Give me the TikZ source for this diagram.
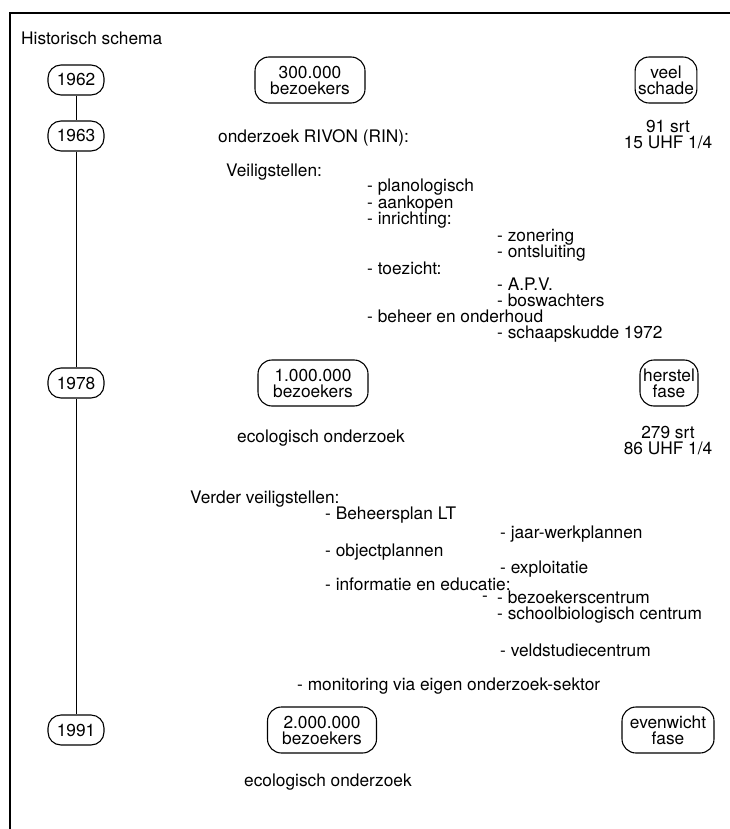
\documentclass[tikz,border=0pt]{standalone}
\usepackage{fontspec}
\setmainfont{TeX Gyre Heros}
\begin{document}
\begin{tikzpicture}[x=1pt,y=-1pt,
  every node/.style={font=\fontsize{17.3}{16}\selectfont, text=black},
  yearbox/.style={draw, line width=1.1pt, rounded corners=13pt, minimum width=56pt, minimum height=30pt, inner sep=0pt, text height=12pt, text depth=0pt},
  infobox/.style={draw, line width=1.1pt, rounded corners=14pt, minimum height=46pt, inner xsep=3pt, inner ysep=0pt, align=center},
  txt/.style={anchor=base west, inner sep=0pt},
  ctxt/.style={anchor=base, inner sep=0pt, align=center},
  link/.style={line width=0.9pt}]
\useasboundingbox (0,0) rectangle (730,829);
% frame
\coordinate (ftr) at (730,13);
\coordinate (ftl) at (10,13);
\coordinate (fbl) at (10,829);
\draw[line width=1.2pt] (ftr) -- (ftl) -- (fbl);

\node[txt] (title) at (21,45) {Historisch schema};

% timeline
\node[yearbox] (y62) at (76,80) {1962};
\node[yearbox] (y63) at (76,136) {1963};
\node[yearbox] (y78) at (76,383) {1978};
\node[yearbox] (y91) at (76,730) {1991};
\draw[link] (y62) -- (y63);
\draw[link] (y63) -- (y78);
\draw[link] (y78) -- (y91);

% 1962
\node[infobox, minimum width=110pt] (b62) at (310,80) {300.000\\bezoekers};
\node[infobox, minimum width=60pt] (s62) at (666,80) {veel\\schade};

% 1963
\node[ctxt] (srt63) at (668,149) {91 srt\\15 UHF 1/4};
\node[txt] (rivon) at (218,143) {onderzoek RIVON (RIN):};
\node[txt] (veil) at (226,176) {Veiligstellen:};
\node[txt] (v1) at (367,192) {- planologisch};
\node[txt] (v2) at (367,208) {- aankopen};
\node[txt] (v3) at (367,224) {- inrichting:};
\node[txt] (v31) at (497,241) {- zonering};
\node[txt] (v32) at (497,257) {- ontsluiting};
\node[txt] (v4) at (367,274) {- toezicht:};
\node[txt] (v41) at (497,290) {- A.P.V.};
\node[txt] (v42) at (497,306) {- boswachters};
\node[txt] (v5) at (367,322) {- beheer en onderhoud};
\node[txt] (v51) at (497,338) {- schaapskudde 1972};

% 1978
\node[infobox, minimum width=110pt] (b78) at (313,383) {1.000.000\\bezoekers};
\node[infobox, minimum width=58pt] (s78) at (669,383) {herstel\\fase};
\node[ctxt] (srt78) at (668,454) {279 srt\\86 UHF 1/4};
\node[txt] (eco78) at (237,442) {ecologisch onderzoek};
\node[txt] (verder) at (190,503) {Verder veiligstellen:};
\node[txt] (w1) at (325,519) {- Beheersplan LT};
\node[txt] (w11) at (500,538) {- jaar-werkplannen};
\node[txt] (w2) at (325,556) {- objectplannen};
\node[txt] (w21) at (500,573) {- exploitatie};
\node[txt] (w3) at (325,590) {- informatie en educatie:};
\node[txt] (w30) at (482,601) {-};
\node[txt] (w31) at (497,603) {- bezoekerscentrum};
\node[txt] (w32) at (497,619) {- schoolbiologisch centrum};
\node[txt] (w33) at (500,656) {- veldstudiecentrum};
\node[txt] (w4) at (297,690) {- monitoring via eigen onderzoek-sektor};

% 1991
\node[infobox, minimum width=109pt] (b91) at (322,730) {2.000.000\\bezoekers};
\node[infobox, minimum width=92pt] (s91) at (668,730) {evenwicht\\fase};
\node[txt] (eco91) at (244,786) {ecologisch onderzoek};
\end{tikzpicture}
\end{document}
